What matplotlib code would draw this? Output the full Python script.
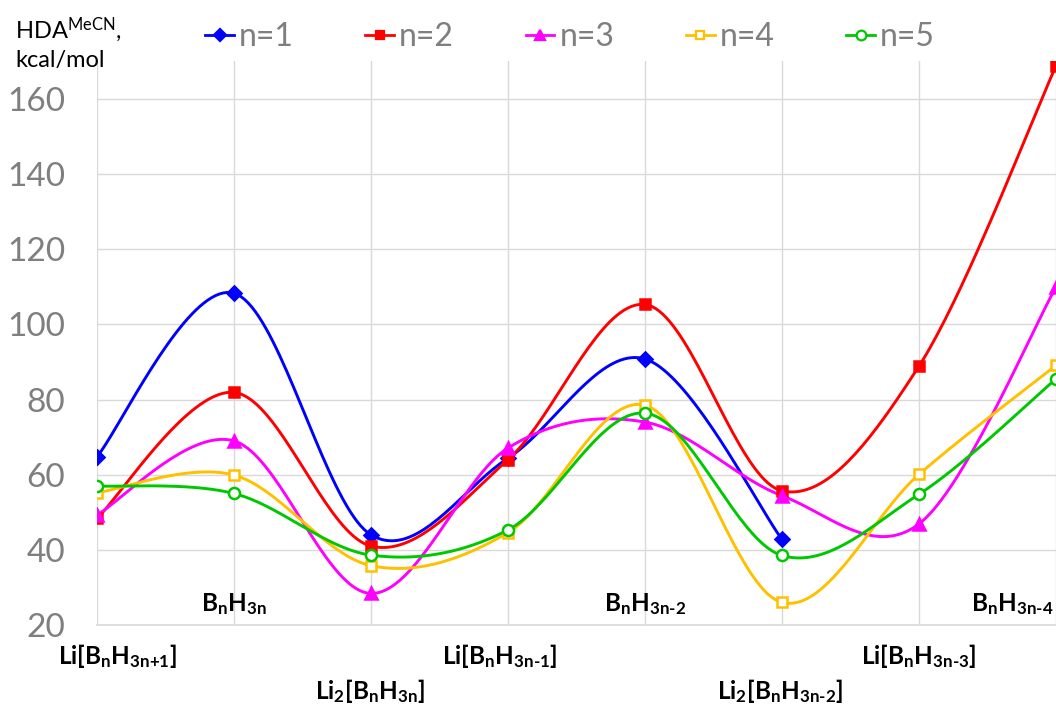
import numpy as np
import matplotlib
matplotlib.use("Agg")
import matplotlib.pyplot as plt
from matplotlib.lines import Line2D

# ---------------- data ----------------
categories = [r"Li[B_nH_{3n{+}1}]", r"B_nH_{3n}", r"Li_2[B_nH_{3n}]", r"Li[B_nH_{3n{‐}1}]",
              r"B_nH_{3n{‐}2}", r"Li_2[B_nH_{3n{‐}2}]", r"Li[B_nH_{3n{‐}3}]", r"B_nH_{3n{‐}4}"]
series_names = ["n=1", "n=2", "n=3", "n=4", "n=5"]
n1 = [64.8, 108.3, 44.0, 64.4, 90.8, 42.8]
n2 = [48.4, 81.9, 41.0, 64.0, 105.3, 55.7, 88.9, 168.8]
n3 = [49.3, 69.0, 28.4, 67.1, 74.0, 54.4, 46.9, 109.9]
n4 = [55.2, 59.9, 35.8, 44.6, 78.5, 26.0, 60.1, 89.1]
n5 = [57.0, 55.0, 38.6, 45.3, 76.4, 38.5, 54.8, 85.5]
y_ticks = [20, 40, 60, 80, 100, 120, 140, 160]

plt.rcParams['font.family'] = ['Lato', 'DejaVu Sans']
plt.rcParams['mathtext.fontset'] = 'custom'
plt.rcParams['mathtext.rm'] = 'Lato'
plt.rcParams['mathtext.bf'] = 'Lato:bold'
plt.rcParams['mathtext.it'] = 'Lato:italic'


def smooth(y, steps=40):
    """Catmull-Rom style Bezier smoothing (like Excel smoothed lines)."""
    y = np.asarray(y, float)
    x = np.arange(len(y), dtype=float)
    P = np.column_stack([x, y])
    xs, ys = [], []
    n = len(P)
    t = np.linspace(0, 1, steps)
    for i in range(n - 1):
        p0 = P[i - 1] if i > 0 else P[i]
        p1 = P[i]
        p2 = P[i + 1]
        p3 = P[i + 2] if i + 2 < n else P[i + 1]
        c1 = p1 + (p2 - p0) / 6.0
        c2 = p2 - (p3 - p1) / 6.0
        b = ((1 - t) ** 3)[:, None] * p1 + (3 * (1 - t) ** 2 * t)[:, None] * c1 \
            + (3 * (1 - t) * t ** 2)[:, None] * c2 + (t ** 3)[:, None] * p2
        xs.append(b[:, 0]); ys.append(b[:, 1])
    return np.concatenate(xs), np.concatenate(ys)


fig = plt.figure(figsize=(10.56, 7.04), dpi=100)
ax = fig.add_axes([97 / 1056, 1 - 625 / 704, 1 - 97 / 1056, (625 - 61.4) / 704])

styles = [
    dict(color="#0000FF", marker="D", ms=7, mfc="#0000FF"),
    dict(color="#FF0000", marker="s", ms=7, mfc="#FF0000"),
    dict(color="#FF00FF", marker="^", ms=8, mfc="#FF00FF"),
    dict(color="#FFC000", marker="s", ms=7, mfc="white"),
    dict(color="#00C800", marker="o", ms=8, mfc="white"),
]
data = [n1, n2, n3, n4, n5]
for vals, st in zip(data, styles):
    sx, sy = smooth(vals)
    ax.plot(sx, sy, color=st["color"], lw=2.1, zorder=3, clip_on=True)
    ax.plot(np.arange(len(vals)), vals, ls="none", marker=st["marker"], ms=st["ms"],
            mfc=st["mfc"], mec=st["color"], mew=1.8, zorder=4, clip_on=True)

ax.set_xlim(0, 7)
ax.set_ylim(20, 170)
ax.set_yticks(y_ticks)
ax.set_xticks(range(len(categories)))
ax.set_xticklabels([])
ax.grid(True, color="#D9D9D9", lw=1.0)
ax.set_axisbelow(True)
for s in ["top", "right", "left"]:
    ax.spines[s].set_visible(False)
ax.spines["bottom"].set_color("#D9D9D9")
ax.spines["bottom"].set_linewidth(1.2)
ax.tick_params(axis="both", length=0)
ax.tick_params(axis="y", labelsize=24, labelcolor="#7F7F7F", pad=23)

# category labels in three rows
lab_fs = 17.5
xt = ax.get_xaxis_transform()
for i, lab in enumerate(categories):
    txt = r"$\mathbf{" + lab + "}$"
    if i in (1, 4):
        ax.text(i, 0.037, txt, transform=xt, ha="center", va="center",
                fontsize=lab_fs, color="black")
    elif i == 7:
        ax.text(i - 0.02, 0.037, txt, transform=xt, ha="right", va="center",
                fontsize=lab_fs, color="black")
    elif i in (0, 3, 6):
        xoff = 0.15 if i == 0 else -0.06 if i == 3 else 0.0
        ax.text(i + xoff, -0.055, txt, transform=xt, ha="center", va="center",
                fontsize=lab_fs, color="black", clip_on=False)
    else:
        ax.text(i - 0.01, -0.117, txt, transform=xt, ha="center", va="center",
                fontsize=lab_fs, color="black", clip_on=False)

# y-axis title
fig.text(15 / 1056, 1 - 30 / 704, r"HDA$^{\mathrm{MeCN}}$,", fontsize=17, ha="left", va="center")
fig.text(15 / 1056, 1 - 60 / 704, "kcal/mol", fontsize=17, ha="left", va="center")

# legend
handles = [Line2D([0], [0], color=st["color"], lw=2.0, marker=st["marker"], ms=st["ms"] - 1,
                  mfc=st["mfc"], mec=st["color"], mew=1.6) for st in styles]
leg = fig.legend(handles, series_names, loc="center", bbox_to_anchor=(570 / 1056, 1 - 37 / 704),
                 ncol=5, frameon=False, fontsize=23, handlelength=0.9, handletextpad=0.15,
                 columnspacing=2.25, borderaxespad=0)
for t in leg.get_texts():
    t.set_color("#7F7F7F")

fig.savefig("out.png", dpi=100)
